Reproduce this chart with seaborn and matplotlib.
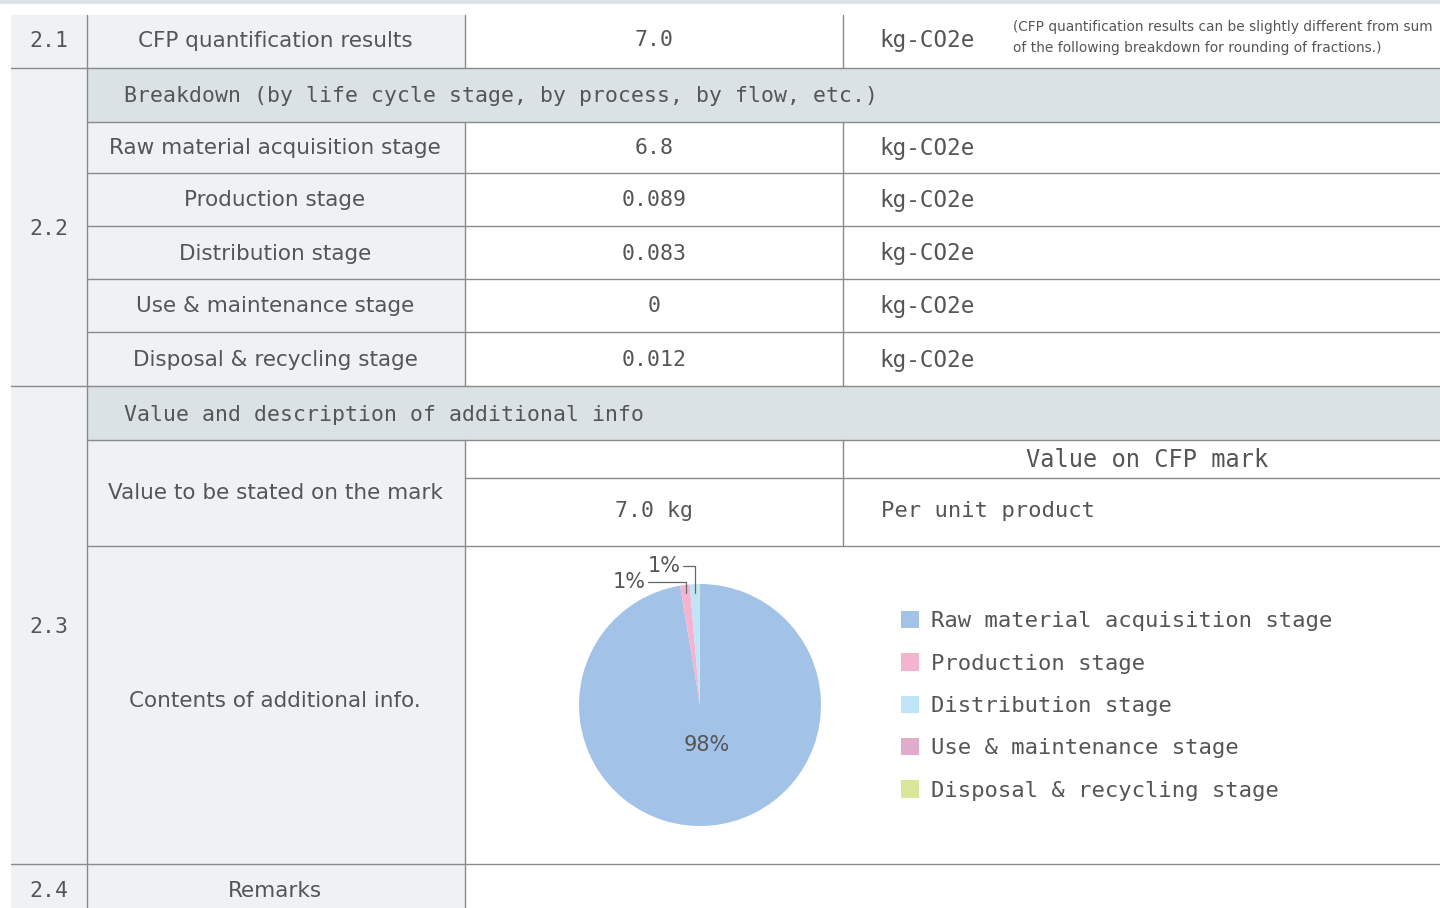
import matplotlib.pyplot as plt
import matplotlib.patches as mpatches
import numpy as np
import seaborn as sns

# ---- data ----
section_ids = ["2.1", "2.2", "2.3", "2.4"]
total_label = "CFP quantification results"
total_value = "7.0"
unit = "kg-CO2e"
note_lines = ["(CFP quantification results can be slightly different from sum",
              "of the following breakdown for rounding of fractions.)"]
breakdown_title = "Breakdown (by life cycle stage, by process, by flow, etc.)"
stages = ["Raw material acquisition stage", "Production stage", "Distribution stage",
          "Use & maintenance stage", "Disposal & recycling stage"]
stage_values = [6.8, 0.089, 0.083, 0, 0.012]
stage_value_text = ["6.8", "0.089", "0.083", "0", "0.012"]
pct_labels = ["98%", "1%", "1%", "", ""]
additional_title = "Value and description of additional info"
mark_label = "Value to be stated on the mark"
mark_header = "Value on CFP mark"
mark_value = "7.0 kg"
mark_basis = "Per unit product"
contents_label = "Contents of additional info."
remarks_label = "Remarks"
pie_colors = ["#a3c2e8", "#f4b4cf", "#bfe4f8", "#e2aacb", "#d9e79a"]

# ---- style ----
sns.set_theme(style="white")
plt.rcParams['font.family'] = ['DejaVu Sans']
TXT = "#555555"
LINE = "#8a8a8a"
LIGHT = "#eef2f5"
BAND = "#dbe2e6"
MONO = "DejaVu Sans Mono"

W, H = 1440, 908
fig = plt.figure(figsize=(W / 100, H / 100), dpi=100)
ax = fig.add_axes([0, 0, 1, 1])
ax.set_xlim(0, W)
ax.set_ylim(H, 0)
ax.axis("off")

def rect(x0, y0, x1, y1, color):
    ax.add_patch(mpatches.Rectangle((x0, y0), x1 - x0, y1 - y0, color=color, lw=0, zorder=0))

def hline(y, x0, x1):
    ax.plot([x0, x1], [y, y], color=LINE, lw=1.0, zorder=2)

def vline(x, y0, y1):
    ax.plot([x, x], [y0, y1], color=LINE, lw=1.0, zorder=2)

# column edges / row edges
cx = [11, 87, 465, 843, 1440]
row_tops = [122, 173, 226, 279, 332, 386]

# backgrounds
rect(0, 0, W, 4, "#dde3e7")
rect(cx[0], 15, cx[2], H, LIGHT)
rect(cx[1], 68, W, 122, BAND)
rect(cx[1], 386, W, 440, BAND)

# grid lines
for y in (68, 386, 864):
    hline(y, cx[0], W)
for y in row_tops[:-1] + [440, 546]:
    hline(y, cx[1], W)
hline(478, cx[2], W)
vline(cx[1], 15, H)
vline(cx[2], 15, 68)
vline(cx[2], 122, 386)
vline(cx[2], 440, H)
vline(cx[3], 15, 68)
vline(cx[3], 122, 386)
vline(cx[3], 440, 546)

mono = dict(family=MONO, fontsize=15.5, color=TXT, va="center")
unit_style = dict(family=MONO, fontsize=16.3, color=TXT, va="center", ha="left")
prop = dict(fontsize=15.5, color=TXT, va="center", ha="center")

# section numbers
for sid, y in zip(section_ids, [41, 229, 627, 891]):
    ax.text(49, y, sid, ha="center", **mono)

# 2.1
ax.text(275, 41, total_label, **prop)
ax.text(654, 40, total_value, ha="center", **mono)
ax.text(879, 40, unit, **unit_style)
for line, y in zip(note_lines, [27, 48]):
    ax.text(1013, y, line, fontsize=9.9, color=TXT, va="center", ha="left")

# 2.2
ax.text(124, 96, breakdown_title, ha="left", **mono)
for i, (name, val) in enumerate(zip(stages, stage_value_text)):
    yc = (row_tops[i] + row_tops[i + 1]) / 2 + 1
    ax.text(275, yc, name, **prop)
    ax.text(654, yc, val, ha="center", **mono)
    ax.text(879, yc, unit, **unit_style)

# 2.3
ax.text(124, 415, additional_title, ha="left", **mono)
ax.text(275, 493, mark_label, **prop)
ax.text(1147, 460, mark_header, ha="center", family=MONO, fontsize=17, color=TXT, va="center")
ax.text(654, 511, mark_value, ha="center", **mono)
ax.text(881, 511, mark_basis, ha="left", family=MONO, fontsize=16, color=TXT, va="center")
ax.text(275, 701, contents_label, **prop)

# 2.4
ax.text(275, 891, remarks_label, **prop)

# ---- pie ----
pcx, pcy, pr = 700, 705, 121
ax_pie = fig.add_axes([(pcx - pr) / W, (H - pcy - pr) / H, 2 * pr / W, 2 * pr / H])
wedges, _ = ax_pie.pie(stage_values, colors=sns.color_palette(pie_colors), startangle=90,
                       counterclock=False, radius=1, wedgeprops=dict(linewidth=0))
ax_pie.set_xlim(-1, 1)
ax_pie.set_ylim(-1, 1)
ax_pie.set_aspect("equal")
ax_pie.axis("off")

# big slice label inside, small slices with leader lines
levels = {1: (1.02, -0.43), 2: (1.15, -0.14)}
for i, (w, lab) in enumerate(zip(wedges, pct_labels)):
    if not lab:
        continue
    ang = np.deg2rad((w.theta1 + w.theta2) / 2)
    if i == 0:
        ax_pie.text(0.33 * np.cos(ang) + 0.03, 0.33 * np.sin(ang), lab, fontsize=15, color=TXT,
                    ha="center", va="center")
    else:
        x0, y0 = 0.93 * np.cos(ang), 0.93 * np.sin(ang)
        ytop, xend = levels[i]
        ax_pie.plot([x0, x0, xend], [y0, ytop, ytop], color="#666666", lw=0.9, clip_on=False)
        ax_pie.text(xend - 0.02, ytop, lab, fontsize=15, color=TXT, ha="right", va="center")

# legend
leg = fig.legend(wedges, stages, loc="upper left", bbox_to_anchor=(881 / W, 1 - 591 / H),
                 frameon=False, prop=dict(family=MONO, size=16), labelcolor=TXT,
                 handlelength=0.82, handleheight=0.82, handletextpad=0.53, labelspacing=0.99)

fig.savefig("out.png", dpi=100)
